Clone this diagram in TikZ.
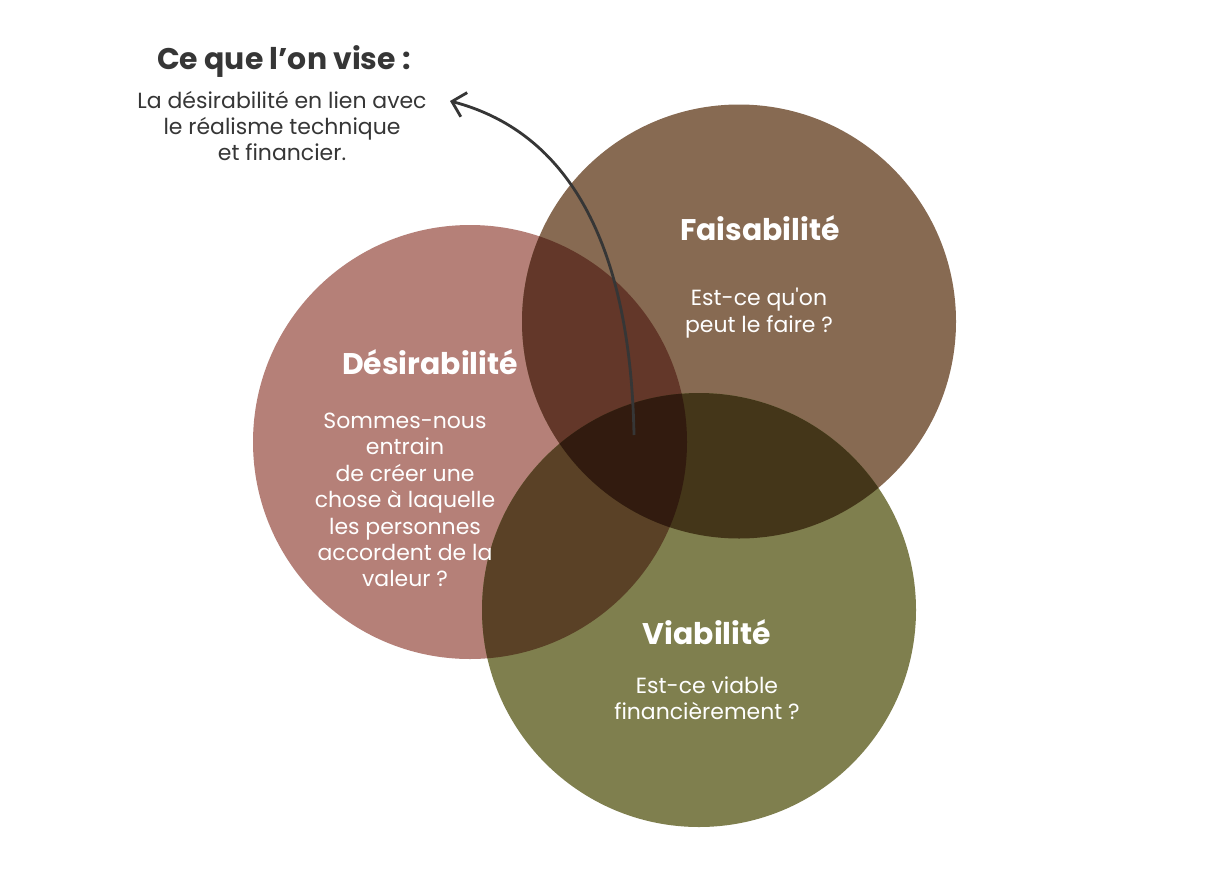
\documentclass[tikz,border=0pt]{standalone}
\usepackage{fontspec}
\newfontfamily\popfont{Poppins}
\usepackage{xcolor}
\usetikzlibrary{positioning, arrows.meta}
\definecolor{desircol}{HTML}{B58078}
\definecolor{faiscol}{HTML}{876A52}
\definecolor{viabcol}{HTML}{7F7F4E}
\definecolor{dfcol}{HTML}{633729}
\definecolor{fvcol}{HTML}{443619}
\definecolor{dvcol}{HTML}{5A4126}
\definecolor{allcol}{HTML}{321B0F}
\definecolor{notecol}{HTML}{363636}
\tikzset{
  venntitle/.style={
    font=\popfont\bfseries\fontsize{17}{20}\selectfont,
    text=white,
    inner sep=0pt
  },
  venntext/.style={
    font=\popfont\fontsize{12.5}{15}\selectfont,
    text=white,
    align=center,
    inner sep=0pt
  },
  notetitle/.style={
    font=\popfont\bfseries\fontsize{17}{20}\selectfont,
    text=notecol,
    inner sep=0pt
  },
  notetext/.style={
    font=\popfont\fontsize{12.5}{15}\selectfont,
    text=notecol,
    align=center,
    inner sep=0pt
  },
  pointer/.style={
    -{Straight Barb[length=2.5mm,width=5mm]},
    line width=1.6pt,
    draw=notecol
  }
}
\def\R{4.34cm}

\begin{document}
\begin{tikzpicture}
  \fill[white] (0,0) rectangle (24.2,-17.52);
  \useasboundingbox (0,0) rectangle (24.2,-17.52);
  \coordinate (cD) at (9.40,-8.84);
  \coordinate (cF) at (14.78,-6.43);
  \coordinate (cV) at (13.98,-12.20);
  % cercles
  \fill[desircol] (cD) circle (\R);
  \fill[faiscol] (cF) circle (\R);
  \fill[viabcol] (cV) circle (\R);
  % intersections
  \begin{scope}
    \clip (cD) circle (\R);
    \fill[dfcol] (cF) circle (\R);
    \fill[dvcol] (cV) circle (\R);
  \end{scope}
  \begin{scope}
    \clip (cF) circle (\R);
    \fill[fvcol] (cV) circle (\R);
    \clip (cV) circle (\R);
    \fill[allcol] (cD) circle (\R);
  \end{scope}
  % textes
  \node[venntitle] (faistitle) at (15.20,-4.56) {Faisabilité};
  \node[venntext] (faistext) at (15.18,-6.26) {Est-ce qu'on\\peut le faire ?};
  \node[venntitle] (desirtitle) at (8.60,-7.24) {Désirabilité};
  \node[venntext] (desirtext) at (8.10,-10.00)
    {Sommes-nous\\entrain\\de créer une\\chose à laquelle\\les personnes\\accordent de la\\valeur ?};
  \node[venntitle] (viabtitle) at (14.14,-12.64) {Viabilité};
  \node[venntext] (viabtext) at (14.14,-13.96) {Est-ce viable\\financièrement ?};
  \node[notetitle] (note) at (5.68,-1.24) {Ce que l’on vise :};
  \node[notetext] (notetext) at (5.64,-2.52)
    {La désirabilité en lien avec\\le réalisme technique\\et financier.};
  % fleche
  \coordinate (aim) at (12.68,-8.70);
  \coordinate (noteend) at (9.00,-2.02);
  \draw[pointer] (aim) .. controls (12.60,-4.60) and (11.20,-2.60) .. (noteend);
\end{tikzpicture}
\end{document}
